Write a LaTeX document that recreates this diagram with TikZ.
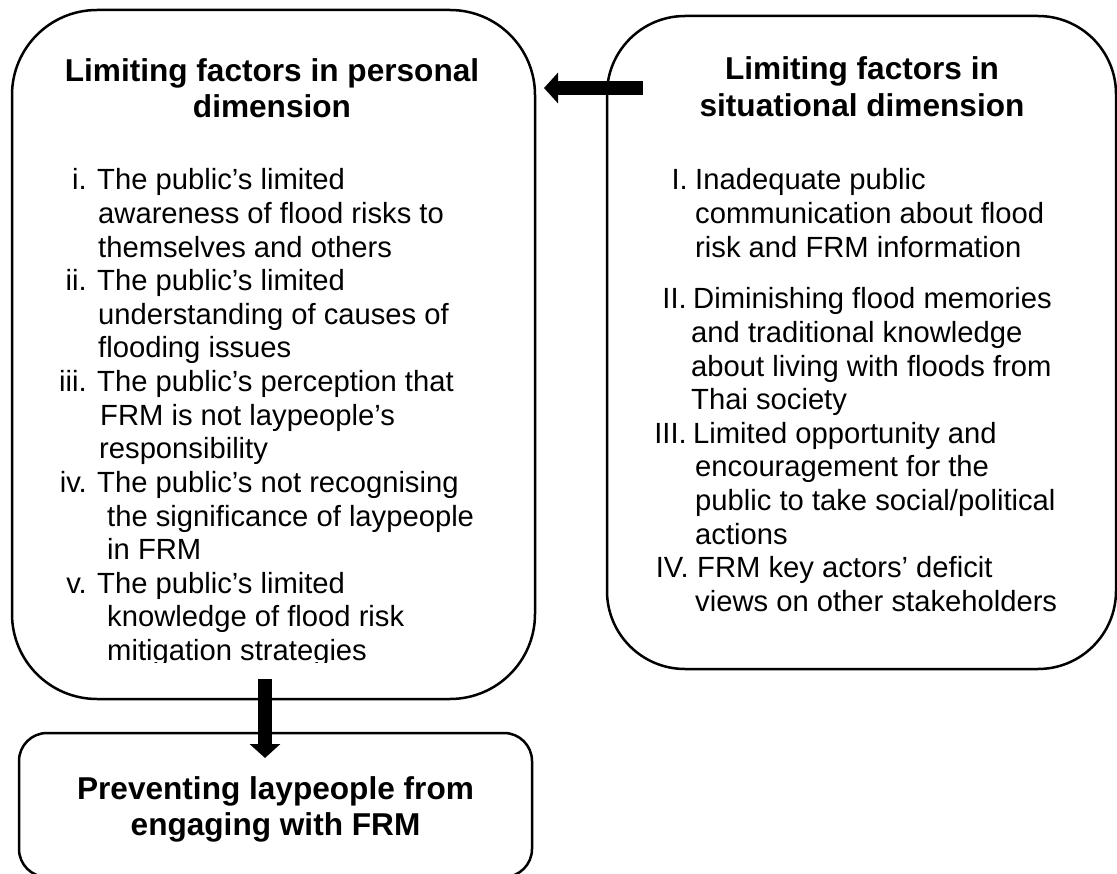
\documentclass[tikz,border=0pt]{standalone}
\usepackage{fontspec}
\setmainfont{Liberation Sans}
\usetikzlibrary{arrows.meta}
\begin{document}
\begin{tikzpicture}[x=1pt,y=-1pt,
  box/.style={draw, line width=2.5pt, inner sep=0pt},
  heading/.style={font=\fontsize{31.6}{36.3}\selectfont\bfseries, anchor=base, inner sep=0pt},
  txt/.style={font=\fontsize{29.2}{33.6}\selectfont, anchor=base west, inner sep=0pt},
  lbl/.style={font=\fontsize{29.2}{33.6}\selectfont, anchor=base east, inner sep=0pt},
  blockarrow/.style={line width=14pt, -{Triangle[length=14pt,width=30pt]}}]
\useasboundingbox (0,0) rectangle (1117,874);

% the three boxes
\node[box, rounded corners=85pt, minimum width=523pt, minimum height=689pt] (personal) at (273.5,354.5) {};
\node[box, rounded corners=78pt, minimum width=509pt, minimum height=653pt] (situational) at (861.5,342.5) {};
\node[box, rounded corners=28pt, minimum width=513pt, minimum height=144pt] (outcome) at (275.5,805) {};

% headings
\node[heading] (ph1) at (272,82) {Limiting factors in personal};
\node[heading] (ph2) at (272,118) {dimension};
\node[heading] (sh1) at (862,80) {Limiting factors in};
\node[heading] (sh2) at (862,117) {situational dimension};
\node[heading] (oh1) at (275.5,799) {Preventing laypeople from};
\node[heading] (oh2) at (275.5,835) {engaging with FRM};

% personal factors (the last line is cut at the bottom of its text frame)
\begin{scope}
\clip (20,150) rectangle (530,662);
\node[lbl] (pl1) at (87,190) {i.};
\node[txt] (pt1) at (97,190) {The public’s limited};
\node[txt] (pt2) at (98,223.6) {awareness of flood risks to};
\node[txt] (pt3) at (98,257.2) {themselves and others};
\node[lbl] (pl2) at (87,290.8) {ii.};
\node[txt] (pt4) at (97,290.8) {The public’s limited};
\node[txt] (pt5) at (98,324.4) {understanding of causes of};
\node[txt] (pt6) at (98,358) {flooding issues};
\node[lbl] (pl3) at (87,391.6) {iii.};
\node[txt] (pt7) at (97,391.6) {The public’s perception that};
\node[txt] (pt8) at (100,425.2) {FRM is not laypeople’s};
\node[txt] (pt9) at (99,458.8) {responsibility};
\node[lbl] (pl4) at (87,492.4) {iv.};
\node[txt] (pt10) at (97,492.4) {The public’s not recognising};
\node[txt] (pt11) at (107,526) {the significance of laypeople};
\node[txt] (pt12) at (107,559.6) {in FRM};
\node[lbl] (pl5) at (87,593.2) {v.};
\node[txt] (pt13) at (97,593.2) {The public’s limited};
\node[txt] (pt14) at (107,626.8) {knowledge of flood risk};
\node[txt] (pt15) at (107,660.4) {mitigation strategies};
\end{scope}

% situational factors
\node[lbl] (sl1) at (688,190) {I.};
\node[txt] (st1) at (695,190) {Inadequate public};
\node[txt] (st2) at (695,223.6) {communication about flood};
\node[txt] (st3) at (695,257.2) {risk and FRM information};
\node[lbl] (sl2) at (687,309) {II.};
\node[txt] (st4) at (693,309) {Diminishing flood memories};
\node[txt] (st5) at (691,342.6) {and traditional knowledge};
\node[txt] (st6) at (691,376.2) {about living with floods from};
\node[txt] (st7) at (691,409.8) {Thai society};
\node[lbl] (sl3) at (687,443.4) {III.};
\node[txt] (st8) at (693,443.4) {Limited opportunity and};
\node[txt] (st9) at (695,477) {encouragement for the};
\node[txt] (st10) at (695,510.6) {public to take social/political};
\node[txt] (st11) at (695,544.2) {actions};
\node[lbl] (sl4) at (689,577.8) {IV.};
\node[txt] (st12) at (697,577.8) {FRM key actors’ deficit};
\node[txt] (st13) at (695,611.4) {views on other stakeholders};

% block arrows
\coordinate (sitTail) at (643,88);
\coordinate (perHead) at (544,88);
\draw[blockarrow] (sitTail) -- (perHead);
\coordinate (perTail) at (265,679);
\coordinate (outHead) at (265,758);
\draw[blockarrow] (perTail) -- (outHead);
\end{tikzpicture}
\end{document}
